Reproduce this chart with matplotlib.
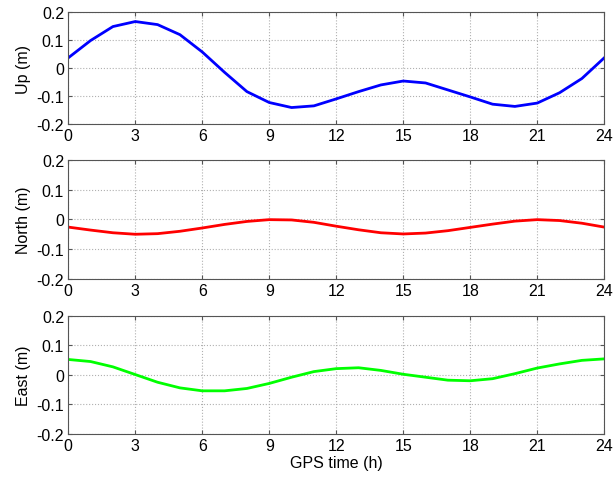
import numpy as np
import matplotlib
matplotlib.use("Agg")
import matplotlib.pyplot as plt

plt.rcParams['font.family'] = ['Liberation Sans', 'DejaVu Sans']

# GPS time (h), hourly samples
hours = list(range(25))

up = [0.037, 0.099, 0.149, 0.167, 0.156, 0.120, 0.058, -0.015, -0.084, -0.123,
      -0.141, -0.135, -0.110, -0.084, -0.060, -0.046, -0.053, -0.078, -0.103,
      -0.129, -0.137, -0.125, -0.088, -0.037, 0.037]

north = [-0.026, -0.036, -0.045, -0.050, -0.048, -0.040, -0.029, -0.017, -0.007,
         -0.001, -0.002, -0.010, -0.023, -0.035, -0.045, -0.049, -0.046, -0.038,
         -0.027, -0.016, -0.006, -0.001, -0.004, -0.013, -0.026]

east = [0.052, 0.045, 0.027, 0.001, -0.025, -0.044, -0.054, -0.054, -0.046, -0.029,
        -0.008, 0.011, 0.021, 0.024, 0.015, 0.002, -0.008, -0.018, -0.020, -0.013,
        0.004, 0.023, 0.037, 0.049, 0.054]

series = [(up, 'Up (m)', (0, 0, 1)),
          (north, 'North (m)', (1, 0, 0)),
          (east, 'East (m)', (0, 1, 0))]

xticks = list(range(0, 25, 3))
yticks = [-0.2, -0.1, 0, 0.1, 0.2]
ytick_labels = ['-0.2', '-0.1', '0', '0.1', '0.2']

fig = plt.figure(figsize=(6.15, 4.81), dpi=100)
boxes = [[0.111, 0.7401, 0.8715, 0.2322],
         [0.111, 0.4179, 0.8715, 0.248],
         [0.111, 0.0956, 0.8715, 0.246]]

for (vals, label, col), box in zip(series, boxes):
    ax = fig.add_axes(box)
    ax.plot(hours, vals, color=col, lw=2)
    ax.set_xlim(0, 24)
    ax.set_ylim(-0.2, 0.2)
    ax.set_xticks(xticks)
    ax.set_yticks(yticks)
    ax.set_yticklabels(ytick_labels)
    ax.grid(True, linestyle=':', color='#b0b0b0', lw=0.8)
    ax.tick_params(direction='in', length=3, labelsize=11.5, top=True, right=True,
                   color='#555555', pad=3)
    for s in ax.spines.values():
        s.set_color('#555555')
        s.set_linewidth(0.8)
    ax.set_ylabel(label, fontsize=11.5, labelpad=4)

ax.set_xlabel('GPS time (h)', fontsize=11.5, labelpad=1)

plt.savefig('out.png', dpi=100)
